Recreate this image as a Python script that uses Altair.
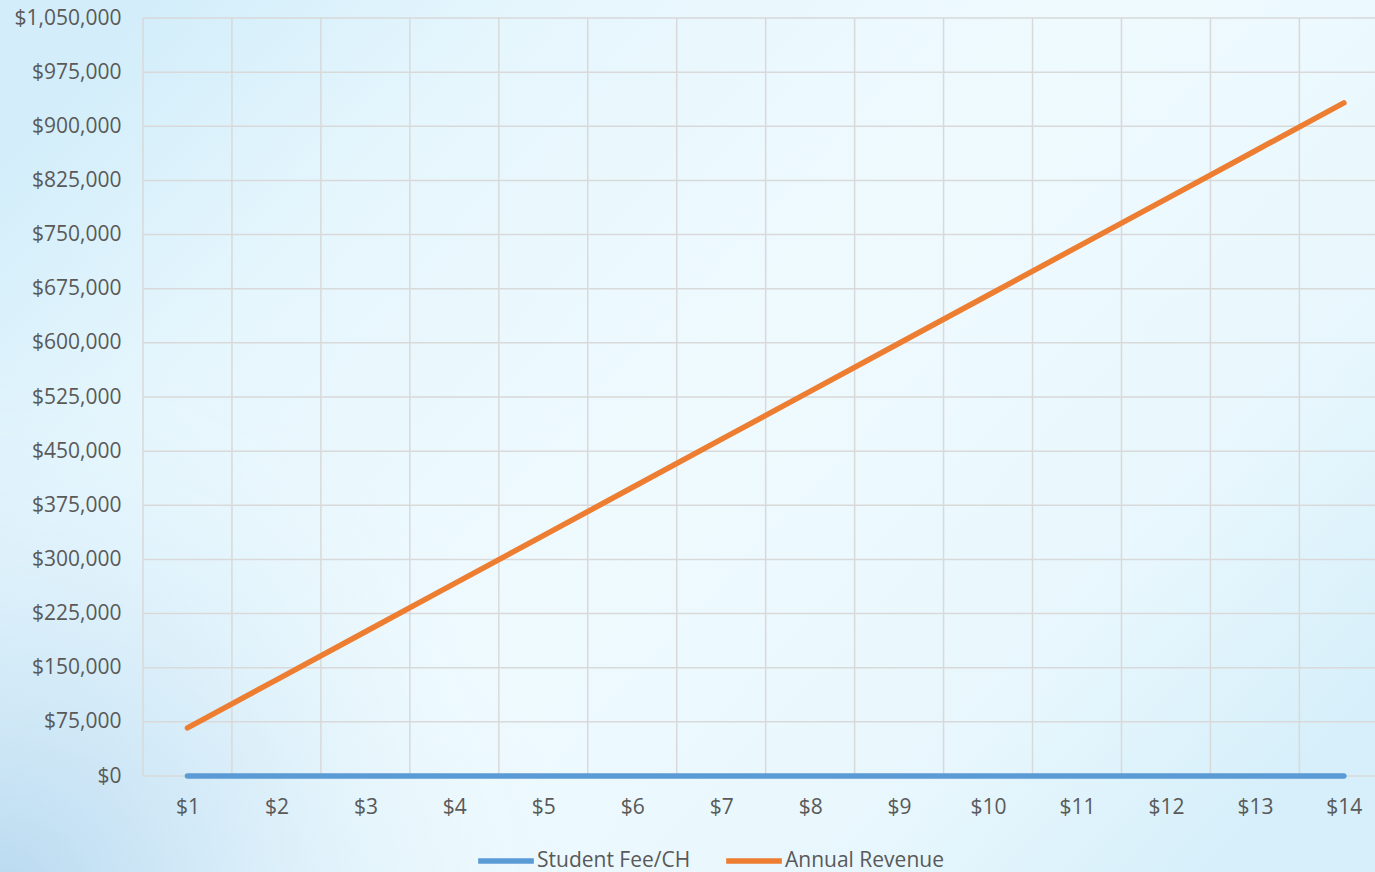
import altair as alt
import pandas as pd

fees = ["$1", "$2", "$3", "$4", "$5", "$6", "$7", "$8", "$9", "$10", "$11", "$12", "$13", "$14"]
fee_num = [1, 2, 3, 4, 5, 6, 7, 8, 9, 10, 11, 12, 13, 14]
student_fee = [1, 2, 3, 4, 5, 6, 7, 8, 9, 10, 11, 12, 13, 14]
annual_revenue = [66600, 133200, 199800, 266400, 333000, 399600, 466200,
                  532800, 599400, 666000, 732600, 799200, 865800, 932400]
series_names = ["Student Fee/CH", "Annual Revenue"]
series_colors = ["#5B9BD5", "#ED7D31"]
grid_x = [0.5, 1.5, 2.5, 3.5, 4.5, 5.5, 6.5, 7.5, 8.5, 9.5, 10.5, 11.5, 12.5, 13.5]
y_ticks = [0, 75000, 150000, 225000, 300000, 375000, 450000, 525000, 600000,
           675000, 750000, 825000, 900000, 975000, 1050000]

rows = []
for i in range(len(fees)):
    rows.append({"x": fee_num[i], "label": fees[i], "series": series_names[0], "value": student_fee[i]})
    rows.append({"x": fee_num[i], "label": fees[i], "series": series_names[1], "value": annual_revenue[i]})
df = pd.DataFrame(rows)

W, H = 1232, 758
FONT = "Open Sans"
TXT = "#595959"
GRID = "#d9d9d9"

xscale = alt.Scale(domain=[0.5, 14.35], nice=False, zero=False)
yscale = alt.Scale(domain=[0, 1050000], nice=False)

x_axis = alt.Axis(values=fee_num, labelExpr="'$' + format(datum.value, 'd')", grid=False,
                  ticks=False, domain=False, labelPadding=20, title=None, zindex=1)
y_axis = alt.Axis(values=y_ticks, format="$,.0f", grid=False, ticks=False, domain=False,
                  labelPadding=22, title=None, zindex=1)

bg = alt.Chart(alt.Data(values=[{}])).mark_rect(
    color=alt.LinearGradient(
        gradient="linear", x1=0, y1=0.2, x2=1, y2=0.8,
        stops=[alt.GradientStop(color="#d3eefa", offset=0),
               alt.GradientStop(color="#e6f6fd", offset=0.2),
               alt.GradientStop(color="#effafe", offset=0.5),
               alt.GradientStop(color="#e8f7fd", offset=0.8),
               alt.GradientStop(color="#d6effa", offset=1)]),
).encode(x=alt.value(-143), x2=alt.value(W), y=alt.value(-18), y2=alt.value(H + 96))

swoosh = alt.Chart(alt.Data(values=[{}])).mark_rect(
    color=alt.RadialGradient(
        gradient="radial", x1=0, y1=1, x2=0, y2=1, r1=0, r2=1,
        stops=[alt.GradientStop(color="rgba(170,208,236,0.8)", offset=0),
               alt.GradientStop(color="rgba(200,228,245,0.5)", offset=0.5),
               alt.GradientStop(color="rgba(230,246,253,0)", offset=1)]),
).encode(x=alt.value(-143), x2=alt.value(420), y=alt.value(360), y2=alt.value(H + 96))

vgrid = alt.Chart(pd.DataFrame({"g": grid_x})).mark_rule(color=GRID, strokeWidth=1.5).encode(
    x=alt.X("g:Q", scale=xscale, axis=x_axis),
    y=alt.value(0), y2=alt.value(H),
)

hgrid = alt.Chart(pd.DataFrame({"t": y_ticks})).mark_rule(color=GRID, strokeWidth=1.5).encode(
    y=alt.Y("t:Q", scale=yscale, axis=y_axis),
    x=alt.value(0), x2=alt.value(W),
)

lines = alt.Chart(df).mark_line(strokeWidth=5.5, strokeCap="round").encode(
    x=alt.X("x:Q", scale=xscale, axis=x_axis),
    y=alt.Y("value:Q", scale=yscale, axis=y_axis),
    color=alt.Color("series:N", scale=alt.Scale(domain=series_names, range=series_colors),
                    sort=series_names,
                    legend=alt.Legend(title=None, orient="none", direction="horizontal",
                                      legendX=332, legendY=812, symbolType="stroke",
                                      symbolSize=3100, symbolStrokeWidth=5.5,
                                      labelFontSize=21, labelFont=FONT, labelColor=TXT,
                                      labelOffset=0, columnPadding=24, zindex=1)),
    order=alt.Order("series:N", sort="descending"),
)

chart = alt.layer(bg, swoosh, vgrid, hgrid, lines).properties(
    width=W, height=H,
    autosize=alt.AutoSizeParams(type="none"),
    padding={"left": 143, "top": 18, "right": 0, "bottom": 96},
).configure_view(stroke=None, fill=None).configure_axis(
    labelFont=FONT, labelFontSize=21, labelColor=TXT,
)

chart.save("out.html", embed_options={"renderer": "svg", "actions": False})
